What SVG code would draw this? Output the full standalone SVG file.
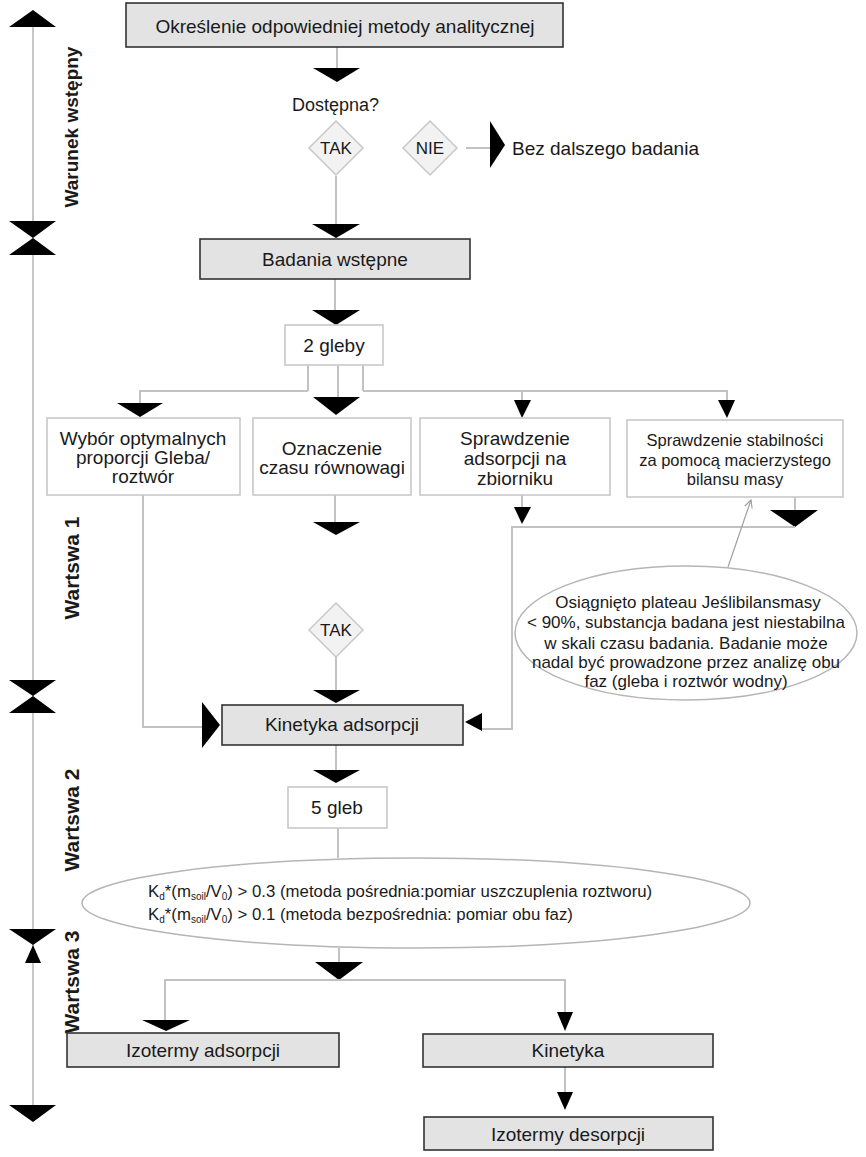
<svg xmlns="http://www.w3.org/2000/svg" width="866" height="1157" viewBox="0 0 866 1157">
<style>
text{font-family:"Liberation Sans",Arial,sans-serif;fill:#1a1a1a}
.t{font-size:19px;text-anchor:middle}
.s{font-size:17px;text-anchor:middle}
.lab{font-size:21px;font-weight:bold;text-anchor:middle}
.gb{fill:#e3e3e3;stroke:#333;stroke-width:1.6}
.wb{fill:#fff;stroke:#c8c8c8;stroke-width:1.6}
.dm{fill:#f2f2f2;stroke:#c8c8c8;stroke-width:1.5}
.ln{fill:none;stroke:#c2c2c2;stroke-width:2}
.ax{fill:none;stroke:#b5b5b5;stroke-width:1.5}
.ah{fill:#000}
.el{fill:#fff;stroke:#b5b5b5;stroke-width:1.5}
.k{font-size:16.8px}
.sub{font-size:10px}
</style>
<defs>
<marker id="oa" viewBox="0 0 10 10" refX="9" refY="5" markerWidth="8" markerHeight="8" orient="auto"><path d="M1,1 L9,5 L1,9" fill="none" stroke="#a0a0a0" stroke-width="1.2"/></marker>
</defs>
<rect width="866" height="1157" fill="#fff"/>

<g id="axis">
<line class="ax" x1="33" y1="27" x2="33" y2="1105"/>
<polygon class="ah" points="33,10 9,27 56,27"/>
<polygon class="ah" points="9,221 56,221 33,238"/>
<polygon class="ah" points="33,238 9,255 56,255"/>
<polygon class="ah" points="9,680 56,680 33,696"/>
<polygon class="ah" points="33,696 9,713 56,713"/>
<polygon class="ah" points="9,929 56,929 33,945"/>
<polygon class="ah" points="33,945 25,963 41,963"/>
<polygon class="ah" points="9,1105 56,1105 33,1122"/>
<text class="lab" style="font-size:19px" transform="translate(78,127) rotate(-90)">Warunek wstępny</text>
<text class="lab" transform="translate(79,568) rotate(-90)">Wartswa 1</text>
<text class="lab" transform="translate(79,820) rotate(-90)">Wartswa 2</text>
<text class="lab" transform="translate(79,982) rotate(-90)">Wartswa 3</text>
</g>

<g id="connectors">
<line class="ln" x1="337" y1="47" x2="337" y2="68"/>
<polygon class="ah" points="313,68 360,68 337,82"/>
<line class="ln" x1="336" y1="176" x2="336" y2="224"/>
<polygon class="ah" points="312,224 360,224 336,238"/>
<line class="ln" x1="466" y1="148" x2="490" y2="148"/>
<polygon class="ah" points="490,121 505,145 490,168"/>
<line class="ln" x1="335" y1="279" x2="335" y2="310"/>
<polygon class="ah" points="312,310 360,310 336,325"/>
<line class="ln" x1="308" y1="365" x2="308" y2="391"/>
<line class="ln" x1="338" y1="365" x2="338" y2="397"/>
<line class="ln" x1="363" y1="365" x2="363" y2="391"/>
<polyline class="ln" points="308,391 140,391 140,403"/>
<polyline class="ln" points="363,391 727,391 727,400"/>
<line class="ln" x1="522" y1="391" x2="522" y2="400"/>
<polygon class="ah" points="117,403 163,403 140,417"/>
<polygon class="ah" points="313,397 360,397 336,415"/>
<polygon class="ah" points="514,400 531,400 522,418"/>
<polygon class="ah" points="718,400 735,400 727,418"/>
<polyline class="ln" points="143,495 143,727 202,727"/>
<polygon class="ah" points="202,702 220,725 202,748"/>
<line class="ln" x1="335" y1="495" x2="335" y2="522"/>
<polygon class="ah" points="313,522 360,522 336,535"/>
<line class="ln" x1="336" y1="657" x2="336" y2="690"/>
<polygon class="ah" points="313,690 360,690 336,703"/>
<line class="ln" x1="522" y1="495" x2="522" y2="507"/>
<polygon class="ah" points="514,507 531,507 522,524"/>
<line class="ln" x1="795" y1="497" x2="795" y2="510"/>
<polygon class="ah" points="770,510 818,510 795,527"/>
<polyline class="ln" points="795,527 512,527 512,729 482,729"/>
<polygon class="ah" points="482,713 465,722 482,731"/>
<line x1="728" y1="567" x2="751" y2="500" stroke="#a0a0a0" stroke-width="1.2" marker-end="url(#oa)"/>
<line class="ln" x1="336" y1="745" x2="336" y2="770"/>
<polygon class="ah" points="313,770 360,770 336,783"/>
<line class="ln" x1="338" y1="828" x2="338" y2="858"/>
<line class="ln" x1="339" y1="948" x2="339" y2="962"/>
<polygon class="ah" points="315,962 363,962 339,980"/>
<polyline class="ln" points="165,1020 165,980 565,980 565,1012"/>
<polygon class="ah" points="142,1020 190,1020 166,1031"/>
<polygon class="ah" points="557,1012 573,1012 565,1031"/>
<line class="ln" x1="565" y1="1067" x2="565" y2="1092"/>
<polygon class="ah" points="557,1092 573,1092 565,1110"/>
</g>

<g id="n1"><rect class="gb" x="126" y="3" width="437" height="44"/><text class="t" x="345" y="33">Określenie odpowiedniej metody analitycznej</text></g>
<g id="n2"><text x="292" y="111" style="font-size:18px">Dostępna?</text></g>
<g id="n3"><polygon class="dm" points="336,121 363,148 336,175 309,148"/><text class="s" x="336" y="154">TAK</text></g>
<g id="n4"><polygon class="dm" points="430,121 457,148 430,175 403,148"/><text class="s" x="430" y="154">NIE</text></g>
<g id="n5"><text x="512" y="155" style="font-size:19px">Bez dalszego badania</text></g>
<g id="n6"><rect class="gb" x="200" y="239" width="270" height="40"/><text class="t" x="335" y="266">Badania wstępne</text></g>
<g id="n7"><rect class="wb" x="285" y="325" width="98" height="40"/><text class="t" x="334" y="352">2 gleby</text></g>
<g id="n8"><rect class="wb" x="47" y="418" width="193" height="77"/><text class="t" x="143" y="445">Wybór optymalnych</text><text class="t" x="143" y="464">proporcji Gleba/</text><text class="t" x="143" y="483">roztwór</text></g>
<g id="n9"><rect class="wb" x="253" y="418" width="158" height="77"/><text class="t" x="332" y="455">Oznaczenie</text><text class="t" x="332" y="474">czasu równowagi</text></g>
<g id="n10"><rect class="wb" x="420" y="418" width="190" height="77"/><text class="t" x="515" y="445">Sprawdzenie</text><text class="t" x="515" y="465">adsorpcji na</text><text class="t" x="515" y="485">zbiorniku</text></g>
<g id="n11"><rect class="wb" x="627" y="420" width="216" height="77"/><text class="t" style="font-size:16.5px" x="735" y="446">Sprawdzenie stabilności</text><text class="t" style="font-size:16.5px" x="735" y="466">za pomocą macierzystego</text><text class="t" style="font-size:16.5px" x="735" y="485">bilansu masy</text></g>
<g id="n12"><ellipse class="el" cx="686" cy="633" rx="171" ry="67"/>
<text class="s" x="688" y="608">Osiągnięto plateau Jeślibilansmasy</text>
<text class="s" x="686" y="628">&lt; 90%, substancja badana jest niestabilna</text>
<text class="s" x="686" y="649">w skali czasu badania. Badanie może</text>
<text class="s" x="686" y="668">nadal być prowadzone przez analizę obu</text>
<text class="s" x="686" y="687">faz (gleba i roztwór wodny)</text></g>
<g id="n13"><polygon class="dm" points="336,603 363,630 336,657 309,630"/><text class="s" x="336" y="636">TAK</text></g>
<g id="n14"><rect class="gb" x="222" y="705" width="241" height="40"/><text class="t" x="342" y="731">Kinetyka adsorpcji</text></g>
<g id="n15"><rect class="wb" x="288" y="787" width="99" height="41"/><text class="t" x="337" y="814">5 gleb</text></g>
<g id="n16"><ellipse class="el" cx="416" cy="903" rx="334" ry="45"/>
<text class="k" x="148" y="897">K<tspan class="sub" dy="3">d</tspan><tspan dy="-3">*(m</tspan><tspan class="sub" dy="3">soil</tspan><tspan dy="-3">/V</tspan><tspan class="sub" dy="3">0</tspan><tspan dy="-3">) &gt; 0.3 (metoda pośrednia:pomiar uszczuplenia roztworu)</tspan></text>
<text class="k" x="148" y="920">K<tspan class="sub" dy="3">d</tspan><tspan dy="-3">*(m</tspan><tspan class="sub" dy="3">soil</tspan><tspan dy="-3">/V</tspan><tspan class="sub" dy="3">0</tspan><tspan dy="-3">) &gt; 0.1 (metoda bezpośrednia: pomiar obu faz)</tspan></text></g>
<g id="n17"><rect class="gb" x="67" y="1033" width="272" height="34"/><text class="t" x="203" y="1057">Izotermy adsorpcji</text></g>
<g id="n18"><rect class="gb" x="423" y="1034" width="290" height="33"/><text class="t" x="568" y="1057">Kinetyka</text></g>
<g id="n19"><rect class="gb" x="424" y="1117" width="289" height="33"/><text class="t" x="568" y="1141">Izotermy desorpcji</text></g>
</svg>
